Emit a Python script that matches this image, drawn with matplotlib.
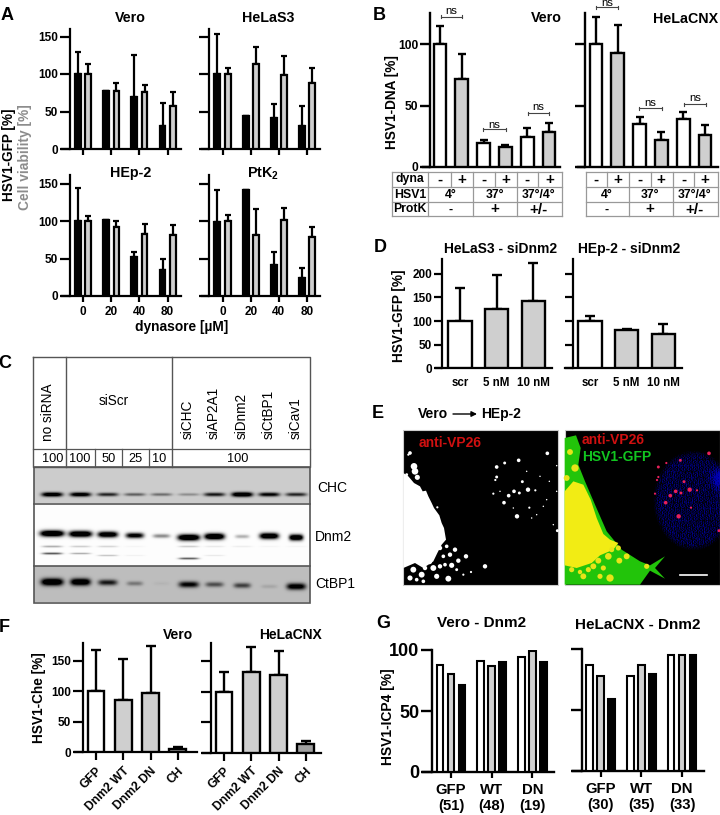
import numpy as np
import matplotlib
matplotlib.use("Agg")
import matplotlib.pyplot as plt
from matplotlib.patches import Polygon, Rectangle

plt.rcParams['font.family'] = ['Liberation Sans', 'DejaVu Sans']
plt.rcParams['mathtext.fontset'] = 'custom'
plt.rcParams['mathtext.bf'] = 'Liberation Sans:bold'
plt.rcParams['mathtext.rm'] = 'Liberation Sans'

# ---------- data ----------
dyn_labels = ['0', '20', '40', '80']
vero_blk = [100, 77, 70, 31];   vero_blk_err = [29, 0, 55, 31]
vero_gry = [100, 78, 76, 58];   vero_gry_err = [13, 10, 9, 18]
hela_blk = [100, 44, 41, 31];   hela_blk_err = [53, 0, 19, 26]
hela_gry = [100, 114, 99, 88];  hela_gry_err = [8, 22, 25, 20]
hep_blk = [100, 102, 52, 35];   hep_blk_err = [44, 0, 7, 15]
hep_gry = [100, 92, 83, 82];    hep_gry_err = [7, 8, 13, 13]
ptk_blk = [99, 142, 41, 24];    ptk_blk_err = [42, 0, 18, 14]
ptk_gry = [100, 82, 102, 79];   ptk_gry_err = [8, 34, 16, 13]

dna_vero = [100, 72, 19, 16, 24, 28];  dna_vero_err = [15, 20, 3, 2, 8, 8]
dna_cnx = [100, 93, 35, 22, 39, 26];   dna_cnx_err = [22, 23, 6, 6, 6, 8]

si_labels = ['scr', '5 nM', '10 nM']
si_s3 = [100, 125, 142];  si_s3_err = [71, 72, 81]
si_hep = [100, 80, 73];   si_hep_err = [11, 4, 20]

che_labels = ['GFP', 'Dnm2 WT', 'Dnm2 DN', 'CH']
che_vero = [100, 85, 97, 6];   che_vero_err = [68, 68, 77, 2]
che_cnx = [99, 132, 127, 15];  che_cnx_err = [34, 41, 39, 4]

icp_vero_labels = ['GFP\n(51)', 'WT\n(48)', 'DN\n(19)']
icp_cnx_labels = ['GFP\n(30)', 'WT\n(35)', 'DN\n(33)']
icp_vero = [[88, 91, 94], [80, 87, 99], [71, 90, 90]]
icp_cnx = [[87, 78, 95], [78, 87, 95], [59, 79, 95]]

si_lanes = ['siCHC', 'siAP2A1', 'siDnm2', 'siCtBP1', 'siCav1']
chc_band = [.85, .8, .55, .35, .3, .2, .6, .95, .7, .55]
dnm2_band = [1, .98, .9, .75, .3, 1, 1, .2, .95, .95]
dnm2_low1 = [.2, .12, .1, .02, 0, .12, .05, .04, .02, .02]
dnm2_low2 = [.42, .2, .14, .03, 0, .4, .05, 0, 0, 0]
ctbp_band = [1, .95, .6, .25, .03, .7, .4, .45, .08, .8]

GRY = '#cfcfcf'
W, H = 720, 815
fig = plt.figure(figsize=(W / 100, H / 100), dpi=100, facecolor='white')

ov = fig.add_axes([0, 0, 1, 1], zorder=10)
ov.patch.set_alpha(0)
ov.axis('off')


def T(x, y, s, size=9, weight='bold', color='black', **kw):
    kw.setdefault('ha', 'center')
    kw.setdefault('va', 'center')
    ov.text(x, y, s, fontsize=size, fontweight=weight, color=color, **kw)


def mk(xl, xr, y0, ytop, pxunit, sx, c0, sp, yticks=None, labels=False, ts=8.5, tl=7, lw=1.6):
    ax = fig.add_axes([xl / W, 1 - y0 / H, (xr - xl) / W, (y0 - ytop) / H])
    ax.patch.set_alpha(0)
    ax.set_xlim((xl - c0) / sp, (xr - c0) / sp)
    ax.set_ylim(0, (y0 - ytop) / pxunit)
    for s in ('top', 'right'):
        ax.spines[s].set_visible(False)
    ax.spines['left'].set_position(('axes', (sx - xl) / (xr - xl)))
    ax.spines['left'].set_linewidth(lw)
    ax.spines['bottom'].set_linewidth(lw)
    ax.set_yticks(yticks)
    ax.tick_params(axis='y', length=tl, width=lw, labelsize=ts, pad=1.5, labelleft=labels)
    for t in ax.get_yticklabels():
        t.set_fontweight('bold')
    return ax


def bars(ax, xs, v, e, w, c, capsize, lw=1.6):
    ax.bar(xs, v, width=w, color=c, edgecolor='black', linewidth=lw, zorder=3)
    if e is not None:
        ax.errorbar(xs, v, yerr=[np.zeros(len(v)), e], fmt='none', ecolor='black',
                    elinewidth=lw, capsize=capsize, capthick=lw, zorder=2)


def xt(ax, pos, labels, size=8.5, length=4, lw=1.6, pad=2, **kw):
    ax.set_xticks(pos)
    ax.set_xticklabels(labels, fontsize=size, fontweight='bold', **kw)
    ax.tick_params(axis='x', length=length, width=lw, pad=pad)


# ---------- A ----------
rows = [(149, 29, 0.75, True), (296, 175, 0.75, False)]
A = [(70, 62, 181, 83, vero_blk, vero_blk_err, vero_gry, vero_gry_err, 0, 'Vero'),
     (209, 202, 320, 222.5, hela_blk, hela_blk_err, hela_gry, hela_gry_err, 0, 'HeLaS3'),
     (70, 62, 181, 83, hep_blk, hep_blk_err, hep_gry, hep_gry_err, 1, 'HEp-2'),
     (209, 202, 320, 222.5, ptk_blk, ptk_blk_err, ptk_gry, ptk_gry_err, 1, 'PtK2')]
for sx, xl, xr, c0, b, be, g, ge, r, name in A:
    y0, yt, pu, _ = rows[r]
    ax = mk(xl, xr, y0, yt, pu, sx, c0, 28.2, [0, 50, 100, 150], labels=(sx == 70))
    xs = np.arange(4)
    bars(ax, xs - 0.18, b, be, 0.21, 'black', 1.9)
    bars(ax, xs + 0.185, g, ge, 0.2, GRY, 1.9)
    xt(ax, xs, dyn_labels if r == 1 else [''] * 4, length=4, pad=3)
T(130, 18, 'Vero', size=10.3); T(268, 18, 'HeLaS3', size=10.3); T(131, 173, 'HEp-2', size=10.3)
T(263, 174, r'$\mathbf{PtK_2}$', size=10.3)
T(182, 327, 'dynasore [µM]', size=9.9)
T(9, 155, 'HSV1-GFP [%]', rotation=90, size=9.8)
T(25, 157, 'Cell viability [%]', rotation=90, size=9.9, color='#8c8c8c')

# ---------- B ----------
B = [(430, 422.7, 560, 440, dna_vero, dna_vero_err, True),
     (585, 578, 718, 596, dna_cnx, dna_cnx_err, False)]
for sx, xl, xr, c0, v, e, lab in B:
    ax = mk(xl, xr, 166.7, 13, 1.224, sx, c0, 21.8, [0, 50, 100], labels=lab, ts=8.7, lw=1.7)
    xs = np.arange(6)
    ax.bar(xs, v, width=0.58, color=['white', GRY] * 3, edgecolor='black', linewidth=1.7, zorder=3)
    ax.errorbar(xs, v, yerr=[np.zeros(6), e], fmt='none', ecolor='black', elinewidth=1.7,
                capsize=3.2, capthick=1.7, zorder=2)
    ax.set_xticks([])
T(546, 18, 'Vero', size=10.3)
T(686, 19, 'HeLaCNX', size=10.3)
T(392, 102, 'HSV1-DNA [%]', rotation=90, size=9.8)
for x0, x1, y, ty in [(441, 462, 16.7, 11), (483, 506, 129, 125), (528, 549, 113, 107),
                      (596, 618, 7, 3.5), (639, 662, 108, 103), (684, 706, 104, 98)]:
    ov.plot([x0, x1], [y, y], color='#444444', lw=0.8)
    ov.plot([x0, x0], [y - 1.5, y + 1.5], color='#444444', lw=0.8)
    ov.plot([x1, x1], [y - 1.5, y + 1.5], color='#444444', lw=0.8)
    T((x0 + x1) / 2, ty, 'ns', size=8.2, weight='normal')

ry = [172.3, 187, 202.3, 216]
TC = '#999999'
for xl, xr, xa, cols, mids, has_lab in [
        (392.3, 561.7, 428.3, [450.7, 473.3, 495, 516.7, 538.3], [440, 461.5, 483.5, 505.5, 527, 549.5], True),
        (585.7, 718, None, [607.3, 629, 651, 672.7, 694.3], [596, 617.5, 639.5, 661, 683.5, 705], False)]:
    for y in ry:
        ov.plot([xl, xr], [y, y], color=TC, lw=0.9)
    ov.plot([xl, xl], [ry[0], ry[3]], color=TC, lw=0.9)
    ov.plot([xr, xr], [ry[0], ry[3]], color=TC, lw=0.9)
    if xa:
        ov.plot([xa, xa], [ry[0], ry[3]], color=TC, lw=0.9)
    for i, c in enumerate(cols):
        ov.plot([c, c], [ry[0], ry[1] if i % 2 == 0 else ry[3]], color=TC, lw=0.9)
    for i, m in enumerate(mids):
        T(m, 180, '+' if i % 2 else '-', size=11)
    for g, s3, s4 in [(0, '4°', '-'), (1, '37°', '+'), (2, '37°/4°', '+/-')]:
        mx = (mids[2 * g] + mids[2 * g + 1]) / 2
        T(mx, 195, s3, size=8.8)
        T(mx, 209.5, s4, size=11 if g else 9)
    if has_lab:
        T(410, 179, 'dyna', size=8.8); T(410, 195, 'HSV1', size=8.8); T(410, 209.5, 'ProtK', size=8.8)

# ---------- C ----------
lane_x = [51.7, 80, 107.3, 134.3, 161, 188.3, 214, 241.7, 268.7, 295.7]


def blot(x0, x1, y0, y1, bg, bands):
    xx, yy = np.meshgrid(np.arange(x0, x1, 1.0), np.arange(y0, y1, 1.0))
    im = np.full(xx.shape, 1.0)
    for ints, yc, hw, sig in bands:
        for i, c in enumerate(lane_x):
            if ints[i] <= 0:
                continue
            yv = yc[i] if np.ndim(yc) else yc
            w = hw[i] if np.ndim(hw) else hw
            s = sig * (0.6 + 0.6 * ints[i])
            p = np.exp(-((xx - c) / w) ** 4) * np.exp(-((yy - yv) / s) ** 2)
            im *= 1 - np.clip(1.5 * ints[i] * p, 0, 1)
    return im * bg


chc = blot(34, 310, 468, 503, 0.80, [(chc_band, 494, 10.5, 2.0)])
dnm = blot(34, 310, 504, 565, 0.99, [
    (dnm2_band, [533, 533.5, 534, 535, 535.5, 537, 536, 536, 535.5, 537],
     [12, 11.5, 10, 9, 8.5, 11, 10, 7, 9.5, 7], 2.6),
    (dnm2_low1, 546, 10, 1.5), (dnm2_low2, [553, 553, 555, 555, 555, 558, 555, 555, 555, 555], 10, 1.3)])
ctb = blot(34, 310, 566, 602, 0.74, [(ctbp_band, [581.5, 581.5, 582, 583, 583, 584, 584, 585, 586, 586],
                                      [11, 10, 9.5, 8, 8, 10, 9, 8.5, 8, 9.5], 3.0)])
for im, (a, b) in [(chc, (468, 503)), (dnm, (504, 565)), (ctb, (566, 602))]:
    ov.imshow(im, cmap='gray', vmin=0, vmax=1, extent=(34, 310, b, a), aspect='auto',
              interpolation='bilinear', zorder=1)
LC = '#555555'
ov.plot([33.3, 310, 310, 33.3, 33.3], [357.3, 357.3, 467.3, 467.3, 357.3], color=LC, lw=1, zorder=3)
ov.plot([33.3, 310], [449.3, 449.3], color=LC, lw=0.9, zorder=3)
for x in (66, 172):
    ov.plot([x, x], [357.3, 467.3], color=LC, lw=1, zorder=3)
for x in (95, 122.3, 149):
    ov.plot([x, x], [449.3, 467.3], color=LC, lw=0.9, zorder=3)
ov.add_patch(Rectangle((34, 467.3), 276, 135.4, fill=False, ec=LC, lw=1.2, zorder=3))
ov.plot([34, 310], [503.5, 503.5], color=LC, lw=1.2, zorder=3)
ov.plot([34, 310], [565.5, 565.5], color=LC, lw=1.2, zorder=3)
T(48.5, 412, 'no siRNA', size=9.8, weight='normal', rotation=90)
T(114, 401, 'siScr', size=9.8, weight='normal')
for x, s in zip([188, 214, 241.7, 268.7, 295.7], si_lanes):
    T(x, 439, s, size=9.8, weight='normal', rotation=90, va='bottom')
for x, s in zip([53, 80, 108.5, 135.5, 159, 238], ['100', '100', '50', '25', '10', '100']):
    T(x, 458.5, s, size=9.2, weight='normal')
T(332, 488.5, 'CHC', size=10, weight='normal')
T(334, 537, 'Dnm2', size=10, weight='normal')
T(335, 584, 'CtBP1', size=10, weight='normal')

# ---------- D ----------
for sx, xl, xr, c0, v, e, lab in [(442.3, 435.7, 551.7, 460, si_s3, si_s3_err, True),
                                  (573.3, 565, 681.7, 590, si_hep, si_hep_err, False)]:
    ax = mk(xl, xr, 368.3, 259.3, 0.4725, sx, c0, 36.6, [0, 50, 100, 150, 200], labels=lab, ts=8.5, tl=6)
    xs = np.arange(3)
    ax.bar(xs, v, width=0.63, color=['white', GRY, GRY], edgecolor='black', linewidth=1.7, zorder=3)
    ax.errorbar(xs, v, yerr=[np.zeros(3), e], fmt='none', ecolor='black', elinewidth=1.7,
                capsize=3.6, capthick=1.7, zorder=2)
    xt(ax, xs, si_labels, size=8.3, length=0, pad=6)
T(501, 249, 'HeLaS3 - siDnm2', size=10)
T(629, 249, 'HEp-2 - siDnm2', size=10)
T(399, 316, 'HSV1-GFP [%]', rotation=90, size=9.8)

# ---------- E ----------
T(433, 414, 'Vero', size=10); T(501, 414, 'HEp-2', size=10)
ov.annotate('', xy=(477, 414), xytext=(453, 414),
            arrowprops=dict(arrowstyle='-|>', color='black', lw=1, mutation_scale=8, shrinkA=0, shrinkB=0))


def zl(p):
    return [(400 + x / 3, 428 + y / 3) for x, y in p]


def zr(p):
    return [(560 + x / 3, 428 + y / 3) for x, y in p]


ov.add_patch(Rectangle((403.3, 429.7), 155, 155, fc='black', ec='#cccccc', lw=0.8, zorder=1))
white_blob = [(10, 135), (25, 145), (42, 165), (60, 175), (68, 190), (78, 188), (85, 205), (95, 225), (102, 240),
              (118, 262), (125, 285), (132, 300), (138, 335), (125, 350), (112, 375), (100, 400), (70, 420),
              (45, 405), (10, 420)]
ov.add_patch(Polygon(zl(white_blob), fc='white', ec='none', zorder=2))
dots_l = [(30, 75, 5), (25, 80, 3), (42, 115, 9), (45, 130, 9), (52, 148, 7), (20, 140, 4),
          (442, 76, 5), (290, 117, 5), (314, 105, 4), (356, 97, 5), (290, 147, 4), (286, 156, 3), (367, 161, 4),
          (280, 197, 3), (342, 190, 5), (384, 185, 6), (358, 195, 4), (326, 203, 5), (406, 187, 3), (312, 224, 5),
          (388, 239, 3), (351, 265, 6), (472, 308, 4), (470, 113, 2), (448, 160, 2), (420, 145, 2), (440, 215, 2),
          (410, 260, 2), (470, 190, 2), (395, 270, 2), (300, 190, 2), (340, 240, 2), (430, 235, 2), (460, 290, 2),
          (380, 130, 2), (112, 238, 3), (255, 415, 6), (213, 432, 3), (198, 385, 6), (175, 398, 6), (155, 412, 7),
          (145, 452, 8), (120, 360, 6), (140, 355, 5), (165, 365, 6), (130, 385, 5), (100, 420, 8), (120, 415, 6),
          (170, 425, 4), (110, 445, 7), (65, 440, 8), (40, 425, 8), (30, 450, 7), (70, 460, 5), (190, 440, 3),
          (135, 410, 5), (150, 380, 6), (88, 400, 8), (75, 420, 6), (50, 455, 5)]
dl = np.array(dots_l, float)
ov.scatter(400 + dl[:, 0] / 3, 428 + dl[:, 1] / 3, s=(dl[:, 2] * 2 / 3 * 0.72 * 1.1) ** 2, c='white', lw=0, zorder=3)
T(418.3, 443, 'anti-VP26', size=10, color='#d01010', ha='left')

ov.add_patch(Rectangle((565, 429.7), 155, 155, fc='black', ec='#cccccc', lw=0.8, zorder=1))
green = [(14, 30), (48, 22), (62, 60), (55, 110), (75, 160), (105, 230), (140, 310), (185, 365), (240, 400), (270, 412),
         (315, 385), (285, 420), (315, 452), (270, 428), (240, 470), (14, 470)]
ov.add_patch(Polygon(zr(green), fc='#22c40a', ec='none', zorder=2))
yellow = [(14, 190), (40, 160), (70, 170), (92, 215), (110, 270), (130, 318), (150, 335), (175, 345), (160, 365),
          (120, 382), (95, 405), (50, 420), (14, 412)]
ov.add_patch(Polygon(zr(yellow), fc='#f2ec14', ec='none', zorder=3))
yspots = [(30, 72, 8), (45, 120, 10), (20, 150, 8), (200, 385, 8), (178, 398, 8), (150, 450, 10), (130, 420, 7),
          (100, 415, 8), (260, 415, 7), (175, 360, 7), (120, 445, 7), (70, 445, 8), (35, 425, 7),
          (145, 385, 9), (115, 398, 8), (85, 425, 7), (60, 432, 6), (155, 365, 7)]
ys = np.array(yspots, float)
ov.scatter(560 + ys[:, 0] / 3, 428 + ys[:, 1] / 3, s=(ys[:, 2] * 2 / 3 * 0.72 * 1.1) ** 2, c='#e8e418', lw=0, zorder=3)
# nucleus: fine blue speckle from fast chirped sine waves (deterministic image texture)
xb, yb = np.meshgrid(np.arange(620, 720, 1.0), np.arange(430, 550, 1.0))
tex = (np.sin(7.31 * xb * yb) + np.sin(3.137 * xb ** 2 + 5.91 * yb) + np.sin(2.193 * yb ** 2 - 4.3 * xb)) / 3
ell = ((xb - 693) / 38.5) ** 2 + ((yb - 500) / 48) ** 2
mask = np.clip((1.1 - ell) * 4, 0, 1)
core = np.exp(-(((xb - 720) / 8) ** 2 + ((yb - 478) / 9) ** 2))
rgba = np.zeros(xb.shape + (4,))
rgba[..., 2] = 1
rgba[..., 3] = np.clip((0.3 + 0.6 * tex + core) * mask, 0, 1) * 0.7
ov.imshow(rgba, extent=(620, 720, 550, 430), aspect='auto', interpolation='nearest', zorder=3)
dots_r = [(447, 76, 5), (295, 117, 4), (319, 105, 3), (361, 97, 4), (295, 147, 3), (291, 156, 3), (372, 161, 4),
          (285, 197, 3), (347, 190, 5), (389, 185, 6), (363, 195, 4), (331, 203, 5), (411, 187, 3), (317, 224, 5),
          (393, 239, 3), (356, 265, 6), (477, 308, 4)]
dr = np.array(dots_r, float)
ov.scatter(560 + dr[:, 0] / 3, 428 + dr[:, 1] / 3, s=(dr[:, 2] * 2 / 3 * 0.72 * 1.1) ** 2, c='#e8205a', lw=0, zorder=4)
ov.plot([680, 706.5], [575, 575], color='white', lw=1.2, zorder=5)
T(581.7, 440.5, 'anti-VP26', size=10, color='#d01010', ha='left', zorder=6)
T(581.7, 457, 'HSV1-GFP', size=10, color='#12c520', ha='left', zorder=6)

# ---------- F ----------
for sx, xl, xr, c0, sp, y0, v, e, lab in [(82.7, 75, 196.7, 96, 27.3, 752.3, che_vero, che_vero_err, True),
                                          (211, 203.3, 321, 224, 27.3, 752.7, che_cnx, che_cnx_err, False)]:
    ax = mk(xl, xr, y0, 642.5, 0.61, sx, c0, sp, [0, 50, 100, 150], labels=lab, ts=8.5)
    xs = np.arange(4)
    ax.bar(xs, v, width=0.62, color=['white', GRY, GRY, '#a0a0a0'], edgecolor='black', linewidth=1.7, zorder=3)
    ax.errorbar(xs, v, yerr=[np.zeros(4), e], fmt='none', ecolor='black', elinewidth=1.7,
                capsize=3.8, capthick=1.7, zorder=2)
    xt(ax, xs, che_labels, size=8.7, length=6, pad=3, rotation=45, ha='right', rotation_mode='anchor')
T(177.7, 635, 'Vero', size=10); T(290, 635, 'HeLaCNX', size=10)
T(39, 698, 'HSV1-Che [%]', rotation=90, size=9.8)

# ---------- G ----------
for sx, xl, xr, c0, y0, yt, v, labs, lab in [(432.3, 423.3, 554, 451, 772, 650, icp_vero, icp_vero_labels, True),
                                             (581.7, 573.3, 704.3, 600.7, 771, 648.7, icp_cnx, icp_cnx_labels, False)]:
    ax = mk(xl, xr, y0, yt, (y0 - yt) / 100, sx, c0, 40.7, [0, 50, 100], labels=lab, ts=13, tl=8, lw=1.7)
    xs = np.arange(3)
    for off, vals, c in zip((-0.27, 0, 0.27), v, ('white', GRY, 'black')):
        ax.bar(xs + off, vals, width=0.165, color=c, edgecolor='black', linewidth=1.5, zorder=3)
    xt(ax, xs, labs, size=10.7, length=4, pad=4, linespacing=1.15)
T(481.7, 623, 'Vero - Dnm2', size=11)
T(638, 625, 'HeLaCNX - Dnm2', size=11)
T(388, 717, 'HSV1-ICP4 [%]', rotation=90, size=10)

# ---------- panel letters ----------
for x, y, s in [(7, 15, 'A'), (379, 15, 'B'), (5, 363, 'C'), (380, 247, 'D'), (378, 414, 'E'), (4, 628, 'F'), (383, 623, 'G')]:
    T(x, y, s, size=13)

ov.set_xlim(0, W)
ov.set_ylim(H, 0)
fig.savefig('out.png', dpi=100)
